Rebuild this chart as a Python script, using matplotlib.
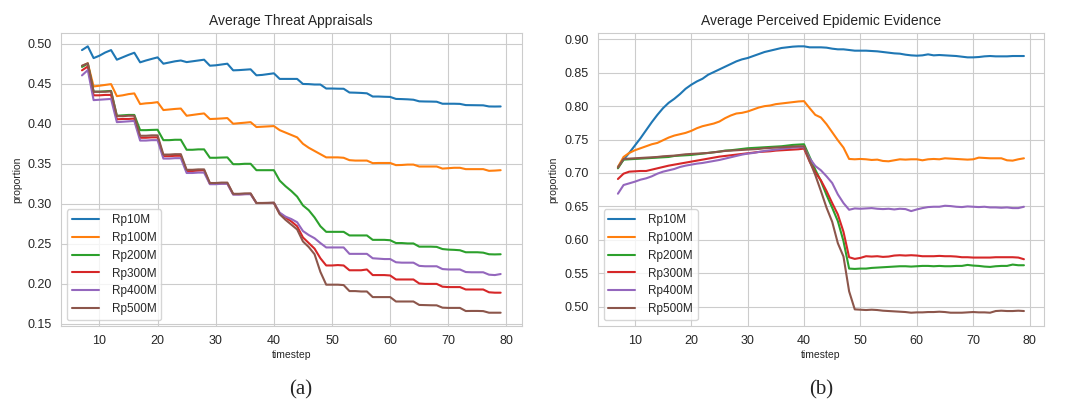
import numpy as np
import matplotlib
matplotlib.use("Agg")
import matplotlib.pyplot as plt
import seaborn as sns

sns.set_style("whitegrid")
plt.rcParams['font.family'] = ['Liberation Sans', 'DejaVu Sans']

timestep = np.arange(7, 80)
labels = ["Rp10M", "Rp100M", "Rp200M", "Rp300M", "Rp400M", "Rp500M"]

# (a) average threat appraisals
threat_10 = [0.492, 0.4967,
             0.482, 0.485, 0.489, 0.492,
             0.480, 0.483, 0.486, 0.4887,
             0.4767, 0.479, 0.481, 0.4829,
             0.475, 0.4765, 0.478, 0.479,
             0.477, 0.478, 0.479, 0.480,
             0.4725, 0.473, 0.474, 0.475,
             0.4667, 0.467, 0.4675, 0.468,
             0.4605, 0.461, 0.462, 0.463,
             0.456, 0.456, 0.456, 0.456,
             0.4497, 0.4495, 0.449, 0.449,
             0.444, 0.444, 0.4438, 0.4437,
             0.439, 0.4388, 0.4385, 0.438,
             0.434, 0.434, 0.4337, 0.4335,
             0.431, 0.4308, 0.4305, 0.430,
             0.428, 0.4278, 0.4277, 0.4275,
             0.425, 0.425, 0.425, 0.4248,
             0.4233, 0.4232, 0.4231, 0.423,
             0.4216, 0.4215, 0.4216]
threat_100 = [0.472, 0.4755,
              0.4466, 0.4475, 0.4485, 0.4495,
              0.4345, 0.4355, 0.437, 0.4379,
              0.4246, 0.4255, 0.426, 0.427,
              0.4171, 0.4178, 0.4185, 0.419,
              0.410, 0.411, 0.412, 0.4129,
              0.4059, 0.4062, 0.4066, 0.4071,
              0.400, 0.4007, 0.4013, 0.402,
              0.3959, 0.3963, 0.3967, 0.3971,
              0.392, 0.389, 0.386, 0.383,
              0.375, 0.370, 0.366, 0.362,
              0.358, 0.358, 0.358, 0.3575,
              0.3545, 0.354, 0.354, 0.354,
              0.3508, 0.351, 0.351, 0.351,
              0.3483, 0.3485, 0.349, 0.349,
              0.3466, 0.3466, 0.3466, 0.3466,
              0.344, 0.3445, 0.345, 0.345,
              0.3433, 0.3433, 0.3433, 0.3433,
              0.3412, 0.3415, 0.342]
threat_200 = [0.471, 0.475,
              0.440, 0.440, 0.4405, 0.441,
              0.410, 0.4105, 0.411, 0.411,
              0.392, 0.392, 0.3923, 0.3925,
              0.3795, 0.3795, 0.380, 0.380,
              0.3675, 0.3675, 0.368, 0.368,
              0.3575, 0.3575, 0.3578, 0.358,
              0.3495, 0.3495, 0.350, 0.350,
              0.342, 0.342, 0.342, 0.342,
              0.329, 0.322, 0.316, 0.309,
              0.298, 0.292, 0.283, 0.272,
              0.265, 0.265, 0.265, 0.265,
              0.2605, 0.2605, 0.2605, 0.2605,
              0.255, 0.255, 0.255, 0.2545,
              0.251, 0.251, 0.2505, 0.2505,
              0.2465, 0.2465, 0.2465, 0.2462,
              0.2435, 0.2428, 0.2425, 0.242,
              0.2395, 0.2395, 0.2395, 0.239,
              0.237, 0.2368, 0.237]
threat_300 = [0.4667, 0.4715,
              0.4355, 0.4355, 0.436, 0.436,
              0.4055, 0.406, 0.406, 0.4065,
              0.3825, 0.3825, 0.383, 0.383,
              0.3595, 0.3595, 0.360, 0.360,
              0.341, 0.341, 0.3415, 0.342,
              0.325, 0.325, 0.3255, 0.3255,
              0.312, 0.312, 0.3122, 0.3125,
              0.301, 0.301, 0.301, 0.301,
              0.288, 0.283, 0.278, 0.272,
              0.258, 0.251, 0.244, 0.232,
              0.223, 0.223, 0.2235, 0.223,
              0.217, 0.217, 0.217, 0.218,
              0.211, 0.211, 0.211, 0.2105,
              0.2055, 0.2055, 0.2055, 0.2055,
              0.2005, 0.200, 0.200, 0.200,
              0.1965, 0.196, 0.196, 0.196,
              0.193, 0.193, 0.193, 0.193,
              0.1895, 0.189, 0.189]
threat_400 = [0.4604, 0.467,
              0.4295, 0.430, 0.4305, 0.431,
              0.402, 0.4025, 0.403, 0.4035,
              0.379, 0.379, 0.3795, 0.3795,
              0.3565, 0.3565, 0.357, 0.357,
              0.3385, 0.3385, 0.339, 0.339,
              0.3245, 0.3245, 0.325, 0.325,
              0.3115, 0.3115, 0.312, 0.312,
              0.301, 0.301, 0.301, 0.3012,
              0.289, 0.284, 0.281, 0.277,
              0.266, 0.261, 0.257, 0.251,
              0.2455, 0.2455, 0.2455, 0.2455,
              0.2375, 0.2375, 0.2375, 0.2375,
              0.232, 0.2315, 0.231, 0.231,
              0.227, 0.2265, 0.2265, 0.2265,
              0.2225, 0.222, 0.222, 0.222,
              0.2185, 0.218, 0.218, 0.218,
              0.2148, 0.2145, 0.2145, 0.2145,
              0.2115, 0.211, 0.2123]
threat_500 = [0.4725, 0.4755,
              0.440, 0.440, 0.440, 0.4405,
              0.4095, 0.4095, 0.410, 0.410,
              0.385, 0.385, 0.3855, 0.3855,
              0.3615, 0.3615, 0.362, 0.362,
              0.3425, 0.3425, 0.343, 0.343,
              0.326, 0.326, 0.3265, 0.3265,
              0.3125, 0.3125, 0.313, 0.313,
              0.301, 0.301, 0.3012, 0.3015,
              0.287, 0.280, 0.274, 0.268,
              0.253, 0.246, 0.237, 0.215,
              0.199, 0.199, 0.199, 0.1985,
              0.191, 0.191, 0.1905, 0.1905,
              0.1835, 0.1835, 0.1835, 0.1835,
              0.178, 0.178, 0.178, 0.178,
              0.1737, 0.1735, 0.1733, 0.1732,
              0.1703, 0.170, 0.170, 0.170,
              0.1661, 0.1662, 0.1662, 0.166,
              0.164, 0.164, 0.164]

# (b) average perceived epidemic evidence
evid_10 = [0.709, 0.720, 0.730, 0.741, 0.752, 0.764, 0.776, 0.787, 0.797, 0.805,
           0.811, 0.818, 0.826, 0.832, 0.837, 0.841, 0.847, 0.851, 0.855, 0.859,
           0.863, 0.867, 0.870, 0.872, 0.875, 0.878, 0.881, 0.883, 0.885, 0.887,
           0.888, 0.889, 0.8895, 0.8895, 0.888, 0.888, 0.888, 0.8875, 0.886, 0.885,
           0.885, 0.884, 0.883, 0.883, 0.883, 0.8825, 0.882, 0.881, 0.880, 0.879,
           0.8785, 0.877, 0.876, 0.8755, 0.876, 0.8775, 0.876, 0.8765, 0.876, 0.8755,
           0.875, 0.874, 0.873, 0.873, 0.8735, 0.8745, 0.875, 0.8745, 0.8745, 0.8745,
           0.875, 0.875, 0.875]
evid_100 = [0.709, 0.724, 0.730, 0.734, 0.737, 0.740, 0.743, 0.745, 0.749, 0.753,
            0.756, 0.758, 0.760, 0.763, 0.767, 0.770, 0.772, 0.774, 0.777, 0.782,
            0.786, 0.789, 0.790, 0.792, 0.795, 0.798, 0.800, 0.801, 0.803, 0.804,
            0.805, 0.806, 0.807, 0.8075, 0.797, 0.787, 0.783, 0.773, 0.761, 0.749,
            0.738, 0.721, 0.7205, 0.721, 0.7205, 0.7195, 0.720, 0.718, 0.7175, 0.719,
            0.7205, 0.720, 0.7205, 0.7205, 0.719, 0.7205, 0.721, 0.7205, 0.722, 0.7215,
            0.721, 0.7205, 0.720, 0.7205, 0.723, 0.7225, 0.722, 0.722, 0.722, 0.719,
            0.7185, 0.7205, 0.722]
evid_200 = [0.707, 0.720, 0.7205, 0.721, 0.7215, 0.722, 0.7225, 0.723, 0.7235, 0.724,
            0.7255, 0.726, 0.7265, 0.727, 0.728, 0.729, 0.730, 0.731, 0.732, 0.7335,
            0.734, 0.735, 0.736, 0.737, 0.7375, 0.738, 0.7385, 0.739, 0.7395, 0.740,
            0.741, 0.742, 0.7425, 0.743, 0.724, 0.705, 0.688, 0.667, 0.648, 0.628,
            0.598, 0.557, 0.5565, 0.557, 0.557, 0.558, 0.5585, 0.559, 0.5595, 0.560,
            0.5605, 0.5605, 0.560, 0.5605, 0.561, 0.561, 0.5605, 0.561, 0.5605, 0.5605,
            0.561, 0.561, 0.5625, 0.5615, 0.561, 0.560, 0.5595, 0.5605, 0.561, 0.561,
            0.563, 0.562, 0.562]
evid_300 = [0.691, 0.699, 0.702, 0.7025, 0.703, 0.703, 0.705, 0.707, 0.709, 0.711,
            0.7125, 0.714, 0.7155, 0.717, 0.7185, 0.720, 0.7215, 0.723, 0.7245, 0.7255,
            0.7265, 0.7275, 0.7285, 0.7295, 0.7305, 0.7315, 0.732, 0.7325, 0.7335, 0.734,
            0.7345, 0.735, 0.7355, 0.7365, 0.717, 0.701, 0.689, 0.673, 0.655, 0.638,
            0.612, 0.574, 0.5715, 0.573, 0.5755, 0.575, 0.5755, 0.5745, 0.575, 0.5765,
            0.577, 0.5765, 0.577, 0.5765, 0.5755, 0.5755, 0.5755, 0.576, 0.5755, 0.5755,
            0.575, 0.574, 0.574, 0.5735, 0.5735, 0.5735, 0.5735, 0.574, 0.574, 0.574,
            0.574, 0.5735, 0.571]
evid_400 = [0.669, 0.682, 0.6845, 0.687, 0.690, 0.692, 0.695, 0.699, 0.702, 0.704,
            0.706, 0.709, 0.711, 0.7125, 0.714, 0.715, 0.7165, 0.718, 0.7195, 0.7215,
            0.7235, 0.7255, 0.7275, 0.729, 0.730, 0.7315, 0.733, 0.734, 0.735, 0.736,
            0.737, 0.738, 0.7385, 0.7385, 0.722, 0.7105, 0.704, 0.695, 0.685, 0.668,
            0.655, 0.645, 0.647, 0.6465, 0.647, 0.6475, 0.6465, 0.646, 0.6465, 0.6455,
            0.6465, 0.646, 0.643, 0.6455, 0.6475, 0.649, 0.6495, 0.6495, 0.651, 0.6505,
            0.6495, 0.649, 0.650, 0.6495, 0.649, 0.6495, 0.6485, 0.6485, 0.648, 0.6485,
            0.6475, 0.6475, 0.6495]
evid_500 = [0.708, 0.721, 0.7215, 0.722, 0.7225, 0.723, 0.7235, 0.724, 0.725, 0.7255,
            0.726, 0.727, 0.728, 0.7285, 0.729, 0.7295, 0.730, 0.731, 0.732, 0.733,
            0.7335, 0.734, 0.7345, 0.735, 0.7355, 0.736, 0.737, 0.7375, 0.738, 0.7385,
            0.739, 0.7395, 0.740, 0.740, 0.718, 0.697, 0.673, 0.648, 0.627, 0.595,
            0.575, 0.523, 0.496, 0.4955, 0.495, 0.4955, 0.495, 0.494, 0.4935, 0.493,
            0.4925, 0.492, 0.491, 0.4915, 0.4915, 0.492, 0.492, 0.4925, 0.492, 0.491,
            0.491, 0.491, 0.4915, 0.492, 0.4915, 0.4915, 0.491, 0.4935, 0.494, 0.4935,
            0.4935, 0.494, 0.4935]

threat = [threat_10, threat_100, threat_200, threat_300, threat_400, threat_500]
evidence = [evid_10, evid_100, evid_200, evid_300, evid_400, evid_500]

fig = plt.figure(figsize=(10.71, 4.05), dpi=100)
ax1 = fig.add_axes([0.057, 0.195, 0.430, 0.7235])
ax2 = fig.add_axes([0.558, 0.195, 0.417, 0.7235])

for ax, series, title in [(ax1, threat, "Average Threat Appraisals"),
                          (ax2, evidence, "Average Perceived Epidemic Evidence")]:
    for vals, lab in zip(series, labels):
        ax.plot(timestep, vals, lw=1.5, label=lab)
    ax.set_title(title, fontsize=10, color='.15')
    ax.set_xlabel("timestep", fontsize=7.5, labelpad=2)
    ax.set_ylabel("proportion", fontsize=7.5, labelpad=4)
    ax.tick_params(labelsize=9, pad=3)
    ax.set_xticks([10, 20, 30, 40, 50, 60, 70, 80])
    ax.legend(loc="lower left", fontsize=8.5, handlelength=2.3, handletextpad=1.1,
              borderaxespad=0.5)

fig.text(0.281, 0.037, "(a)", family="Liberation Serif", fontsize=15,
         ha="center", va="center")
fig.text(0.7666, 0.037, "(b)", family="Liberation Serif", fontsize=15,
         ha="center", va="center")

fig.savefig("out.png", dpi=100)
